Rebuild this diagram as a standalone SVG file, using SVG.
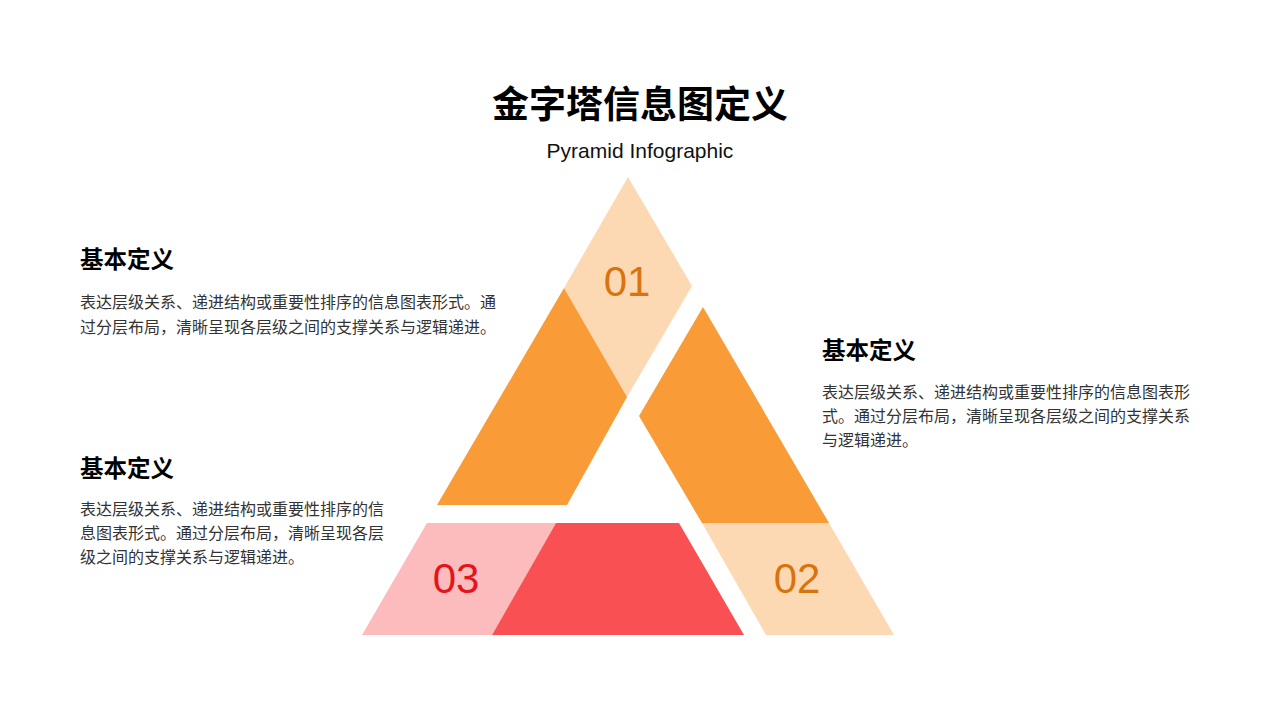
<svg xmlns="http://www.w3.org/2000/svg" width="1280" height="720" viewBox="0 0 1280 720">
  <style>
    .title{font-family:"Noto Sans CJK SC","Noto Sans",sans-serif;font-weight:700;font-size:37px;fill:#000;}
    .sub{font-family:"Liberation Sans",Arial,sans-serif;font-size:21px;fill:#111;}
    .head{font-family:"Noto Sans CJK SC","Noto Sans",sans-serif;font-weight:700;font-size:23.5px;fill:#000;}
    .body{font-family:"Noto Sans CJK SC","Noto Sans",sans-serif;font-size:16px;fill:#333;}
    .num{font-family:"Liberation Sans",Arial,sans-serif;font-size:42px;text-anchor:middle;}
    .light{fill:#FDD9B3;}
    .orange{fill:#F99B36;}
    .red{fill:#F95153;}
    .pink{fill:#FCBBBC;}
  </style>
  <rect width="1280" height="720" fill="#fff"/>

  <g id="title">
    <text class="title" x="640" y="118" text-anchor="middle">金字塔信息图定义</text>
    <text class="sub" x="640" y="158" text-anchor="middle">Pyramid Infographic</text>
  </g>

  <g id="tier-01">
    <polygon class="light" points="628,177 692,286 627,397 564,288"/>
    <polygon class="orange" points="564,288 627,397 567,505 437,505"/>
    <text class="num" x="627" y="296" fill="#D9730D">01</text>
  </g>

  <g id="tier-02">
    <polygon class="orange" points="703,307 829,523 702,523 639,416"/>
    <polygon class="light" points="702,523 829,523 894,635 766,635"/>
    <text class="num" x="797" y="593" fill="#D9730D">02</text>
  </g>

  <g id="tier-03">
    <polygon class="pink" points="427,523 556,523 492,635 362,635"/>
    <polygon class="red" points="556,523 679,523 744,635 492,635"/>
    <text class="num" x="456" y="593" fill="#E3141B">03</text>
  </g>

  <g id="text-left-top">
    <text class="head" x="80" y="268">基本定义</text>
    <text class="body" x="80" y="308">表达层级关系、递进结构或重要性排序的信息图表形式。通</text>
    <text class="body" x="80" y="333">过分层布局，清晰呈现各层级之间的支撑关系与逻辑递进。</text>
  </g>

  <g id="text-right">
    <text class="head" x="822" y="359">基本定义</text>
    <text class="body" x="822" y="398">表达层级关系、递进结构或重要性排序的信息图表形</text>
    <text class="body" x="822" y="422">式。通过分层布局，清晰呈现各层级之间的支撑关系</text>
    <text class="body" x="822" y="446">与逻辑递进。</text>
  </g>

  <g id="text-left-bottom">
    <text class="head" x="80" y="477">基本定义</text>
    <text class="body" x="80" y="515">表达层级关系、递进结构或重要性排序的信</text>
    <text class="body" x="80" y="539">息图表形式。通过分层布局，清晰呈现各层</text>
    <text class="body" x="80" y="563">级之间的支撑关系与逻辑递进。</text>
  </g>
</svg>
